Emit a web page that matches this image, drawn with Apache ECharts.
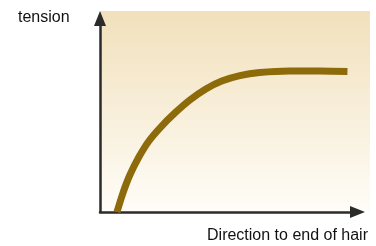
<!DOCTYPE html>
<html>
<head>
<meta charset="utf-8">
<script src="https://cdn.jsdelivr.net/npm/echarts@6/dist/echarts.min.js"></script>
<style>
  html, body { margin: 0; padding: 0; background: #fff; }
  #chart { width: 376px; height: 246px; }
</style>
</head>
<body>
<div id="chart"></div>
<script>
// curve (position along hair, tension)
const xValues = [0.66, 0.89, 1.16, 1.51, 1.90, 2.36, 2.91, 3.49, 4.11, 4.73, 5.43, 6.20, 7.36, 8.53, 9.61];
const tension = [0, 0.98, 1.91, 2.84, 3.67, 4.39, 5.12, 5.79, 6.36, 6.77, 7.05, 7.21, 7.29, 7.29, 7.26];
const yLabel = 'tension';
const xLabel = 'Direction to end of hair';

const curve = xValues.map((x, i) => [x, tension[i]]);

const chart = echarts.init(document.getElementById('chart'));

const axisLine = {
  show: true,
  symbol: ['none', 'triangle'],
  symbolSize: [12, 15],
  lineStyle: { color: '#2b2b2b', width: 2.5 }
};

chart.setOption({
  animation: false,
  title: [
    {
      text: yLabel, left: 18, top: 10, padding: 0,
      textStyle: { fontFamily: 'Liberation Sans', fontSize: 16, fontWeight: 'normal', color: '#111' }
    },
    {
      text: xLabel, right: 8, top: 228, padding: 0,
      textStyle: { fontFamily: 'Liberation Sans', fontSize: 16, fontWeight: 'normal', color: '#111' }
    }
  ],
  graphic: [
    {
      type: 'rect', z: -1,
      shape: { x: 100, y: 11, width: 270, height: 201 },
      style: {
        fill: new echarts.graphic.LinearGradient(0, 0, 0, 1, [
          { offset: 0, color: '#f1e0bb' },
          { offset: 1, color: '#fffdf8' }
        ])
      }
    }
  ],
  grid: { left: 100, right: 18.5, top: 18.5, bottom: 34 },
  xAxis: {
    type: 'value', min: 0, max: 10,
    axisLine: axisLine,
    axisTick: { show: false }, axisLabel: { show: false }, splitLine: { show: false }
  },
  yAxis: {
    type: 'value', min: 0, max: 10,
    axisLine: axisLine,
    axisTick: { show: false }, axisLabel: { show: false }, splitLine: { show: false }
  },
  series: [
    {
      type: 'line',
      data: curve,
      smooth: 0.3,
      symbol: 'none',
      z: 1,
      lineStyle: { color: '#8e6b0a', width: 7, cap: 'butt' }
    }
  ]
});
</script>
</body>
</html>
